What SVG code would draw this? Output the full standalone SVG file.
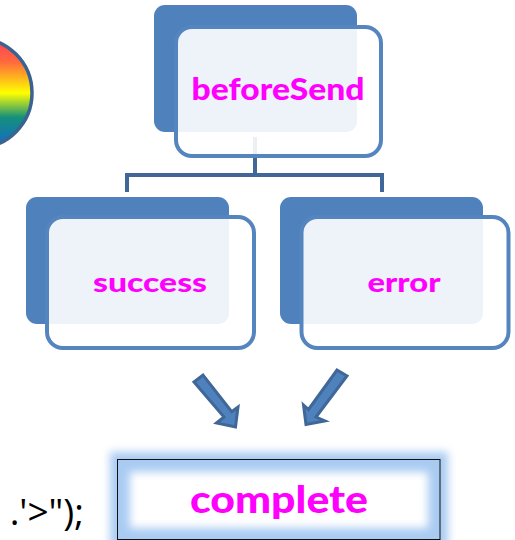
<svg xmlns="http://www.w3.org/2000/svg" width="515" height="540" viewBox="0 0 515 540">
<style>
.back{fill:#4f81bd}
.front{fill:#fff;fill-opacity:.9;stroke:#5585be;stroke-width:4}
.lbl{fill:#f0f;font-family:"Lato","Liberation Sans",sans-serif;font-weight:900;text-anchor:middle}
.conn{fill:none;stroke:#3f6797;stroke-width:4}
.arrow{fill:#4f81bd;stroke:#3f6797;stroke-width:3}
</style>
<defs>
<linearGradient id="rainbow" x1="0" y1="0" x2="0" y2="1">
<stop offset="0" stop-color="#ff3b5c"/>
<stop offset=".22" stop-color="#ff6a3c"/>
<stop offset=".5" stop-color="#ffff00"/>
<stop offset=".72" stop-color="#14917a"/>
<stop offset="1" stop-color="#1466d0"/>
</linearGradient>
<filter id="blur" x="-20%" y="-40%" width="140%" height="180%"><feGaussianBlur stdDeviation="4"/></filter>
</defs>
<circle id="rainbow-ball" cx="-23" cy="93" r="55" fill="url(#rainbow)" stroke="#3b6390" stroke-width="3.5"/>
<g id="connectors">
<path class="conn" d="M255 137V175M127 192V175H382V192"/>
</g>
<g id="beforeSend">
<rect class="back" x="154" y="5" width="203" height="127" rx="11"/>
<rect class="front" x="176" y="27" width="205" height="129" rx="16"/>
<text class="lbl" x="278" y="100" font-size="30" textLength="173" lengthAdjust="spacingAndGlyphs">beforeSend</text>
</g>
<g id="success">
<rect class="back" x="26" y="197" width="203" height="127" rx="11"/>
<rect class="front" x="47" y="217" width="207" height="131" rx="16"/>
<text class="lbl" x="150" y="292" font-size="27" textLength="114" lengthAdjust="spacingAndGlyphs">success</text>
</g>
<g id="error">
<rect class="back" x="280" y="197" width="203" height="127" rx="11"/>
<rect class="front" x="301.500" y="217" width="207" height="131" rx="16"/>
<text class="lbl" x="404" y="292" font-size="27" textLength="73" lengthAdjust="spacingAndGlyphs">error</text>
</g>
<g id="arrows">
<polygon class="arrow" points="194,382 203,375 231.700,411.700 238,407 235.500,427 216.500,423 224,417"/>
<polygon class="arrow" points="337,370 347,376 316,417 325,421 306,424.500 303.500,405 308.500,409.500"/>
</g>
<g id="complete">
<rect x="110" y="452" width="338" height="95" fill="#a9cbf2" filter="url(#blur)"/>
<rect x="118" y="459.500" width="322" height="80" fill="#a9cbf2"/>
<rect x="130" y="472" width="298" height="56" fill="#fff" filter="url(#blur)"/>
<rect x="117.500" y="459.500" width="322.500" height="80" fill="none" stroke="#111" stroke-width="1"/>
<text class="lbl" x="279" y="513" font-size="38" textLength="178" lengthAdjust="spacingAndGlyphs">complete</text>
</g>
<text id="code" x="84" y="525" text-anchor="end" font-family="Open Sans,Noto Sans,sans-serif" font-size="37" fill="#000">.'&gt;");</text>
</svg>
